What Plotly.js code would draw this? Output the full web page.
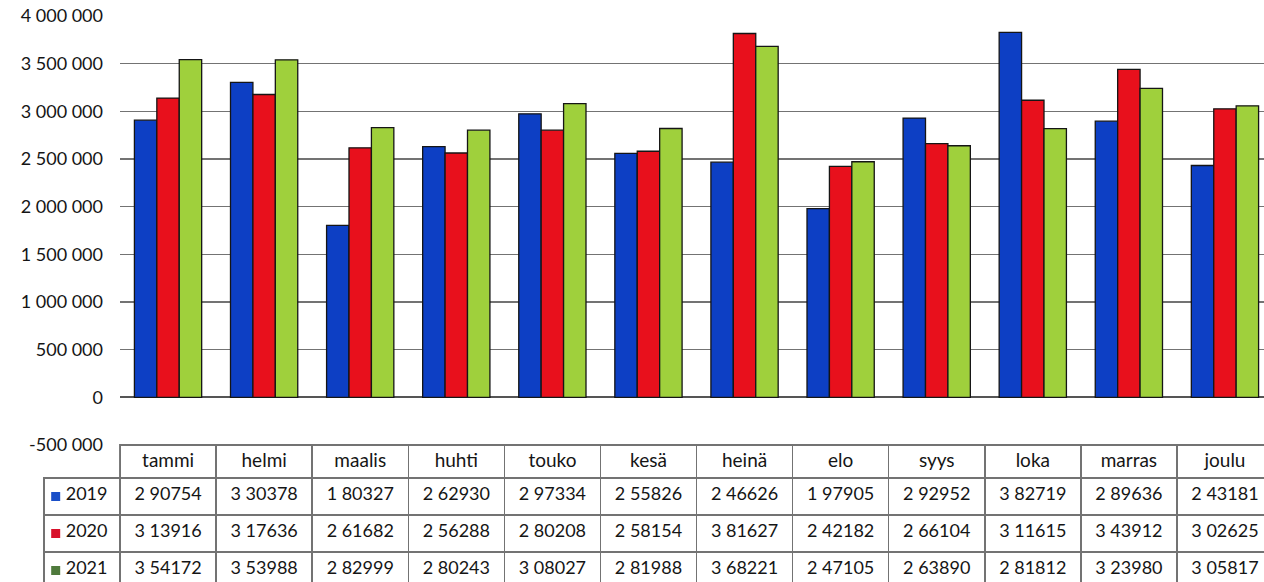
<!DOCTYPE html>
<html>
<head>
<meta charset="utf-8">
<script src="https://cdn.plot.ly/plotly-3.0.1.min.js"></script>
<style>
  html, body { margin: 0; padding: 0; overflow: hidden; background: #fff; }
  #chart { width: 1273px; height: 590px; }
</style>
</head>
<body>
<div id="chart"></div>
<script>
// Categories (months)
const months = ['tammi','helmi','maalis','huhti','touko','kesä','heinä','elo','syys','loka','marras','joulu'];
// Series names
const years = ['2019','2020','2021'];
// Series values
const v2019 = [2907540, 3303780, 1803270, 2629300, 2973340, 2558260, 2466260, 1979050, 2929520, 3827190, 2896360, 2431810];
const v2020 = [3139160, 3176360, 2616820, 2562880, 2802080, 2581540, 3816270, 2421820, 2661040, 3116150, 3439120, 3026250];
const v2021 = [3541720, 3539880, 2829990, 2802430, 3080270, 2819880, 3682210, 2471050, 2638900, 2818120, 3239800, 3058170];
// Table texts as printed
const t2019 = ['2 90754','3 30378','1 80327','2 62930','2 97334','2 55826','2 46626','1 97905','2 92952','3 82719','2 89636','2 43181'];
const t2020 = ['3 13916','3 17636','2 61682','2 56288','2 80208','2 58154','3 81627','2 42182','2 66104','3 11615','3 43912','3 02625'];
const t2021 = ['3 54172','3 53988','2 82999','2 80243','3 08027','2 81988','3 68221','2 47105','2 63890','2 81812','3 23980','3 05817'];
// Y ticks and labels
const yTicks = [-500000, 0, 500000, 1000000, 1500000, 2000000, 2500000, 3000000, 3500000, 4000000];
const yLabels = ['-500 000','0','500 000','1 000 000','1 500 000','2 000 000','2 500 000','3 000 000','3 500 000','4 000 000'];

const colors = ['#0d3fc4', '#e8101c', '#9fd03c'];
const keyColors = ['#1a4fc8', '#d8102a', '#4f7a3c'];
const series = [v2019, v2020, v2021];
const FONT = 'Lato, "Open Sans", sans-serif';
const NB = '\u00A0';
const nb = s => s.replace(/ /g, NB);

const W = 1273, H = 590, L = 44, T = 16;
const axisLeft = 120, plotBottom = 445;
const plotW = W - L, plotH = H - T;
const yDom0 = (H - plotBottom) / plotH;
const headerH = 33, rowH = 37, firstColW = axisLeft - L;

const traces = series.map((vals, i) => ({
  type: 'bar',
  name: years[i],
  x: months,
  y: vals,
  marker: { color: colors[i], line: { color: '#151515', width: 1.3 } },
  hoverinfo: 'x+y+name'
}));

const tableRows = [t2019, t2020, t2021];
const cellValues = [years.map(y => y + NB)].concat(months.map((m, j) => tableRows.map(r => nb(r[j]))));

traces.push({
  type: 'table',
  domain: { x: [0, 1], y: [0, yDom0] },
  columnwidth: [firstColW].concat(months.map(() => 96)),
  header: {
    values: [''].concat(months),
    height: headerH,
    align: 'center',
    font: { family: FONT, size: 19, color: '#151515' },
    fill: { color: ['rgba(0,0,0,0)'].concat(months.map(() => '#ffffff')) },
    line: { color: ['rgba(0,0,0,0)'].concat(months.map(() => '#737373')), width: 1.5 }
  },
  cells: {
    values: cellValues,
    height: rowH,
    align: ['right'].concat(months.map(() => 'center')),
    font: { family: FONT, size: 18, color: '#151515' },
    fill: { color: ['rgba(0,0,0,0)'].concat(months.map(() => '#ffffff')) },
    line: { color: '#737373', width: 1.5 }
  }
});

// legend keys in the first table column, placed on the year rows
const keyAxisTop = -(headerH + rowH / 2) / rowH;
const keyAxisBottom = keyAxisTop + (H - plotBottom) / rowH;
traces.push({
  type: 'scatter',
  mode: 'markers',
  xaxis: 'x2',
  yaxis: 'y2',
  x: years.map(() => 0),
  y: years,
  marker: { symbol: 'square', size: 9, color: keyColors, line: { width: 0 } },
  hoverinfo: 'skip'
});

const layout = {
  width: W,
  height: H,
  margin: { l: L, r: 0, t: T, b: 0, pad: 0 },
  paper_bgcolor: '#ffffff',
  plot_bgcolor: 'rgba(0,0,0,0)',
  separators: ', ',
  showlegend: false,
  barmode: 'group',
  bargap: 0.3,
  bargroupgap: 0,
  font: { family: FONT, color: '#151515' },
  xaxis: {
    type: 'category',
    domain: [firstColW / plotW, 1],
    categoryarray: months,
    range: [-0.5, 11.5],
    showticklabels: false,
    showgrid: false,
    zeroline: false,
    showline: false,
    ticks: ''
  },
  yaxis: {
    domain: [yDom0, 1],
    range: [-500000, 4000000],
    tickvals: yTicks,
    ticktext: yLabels,
    tickfont: { family: FONT, size: 18, color: '#151515' },
    ticklabelstandoff: 16,
    showgrid: true,
    gridcolor: '#737373',
    gridwidth: 1.5,
    zeroline: true,
    zerolinecolor: '#555555',
    zerolinewidth: 2,
    showline: false,
    ticks: ''
  },
  xaxis2: {
    domain: [0, firstColW / plotW],
    anchor: 'y2',
    range: [-1, 5.5],
    visible: false
  },
  yaxis2: {
    domain: [0, yDom0],
    anchor: 'x2',
    type: 'category',
    categoryarray: years,
    range: [keyAxisBottom, keyAxisTop],
    visible: false
  }
};

Plotly.newPlot('chart', traces, layout, { displayModeBar: false, staticPlot: true });
</script>
</body>
</html>
